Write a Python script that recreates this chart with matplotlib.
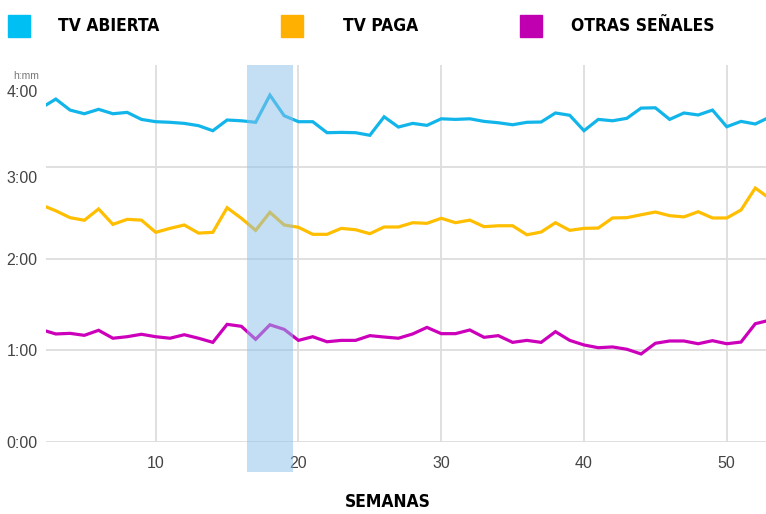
import matplotlib.pyplot as plt
import matplotlib.transforms as mtransforms
from matplotlib.patches import Rectangle
import numpy as np

# weekly average viewing time per person, in minutes (weeks 2..53)
weeks = np.arange(2, 54)

tv_abierta = [218.7, 224.4, 217.2, 214.8, 217.7, 214.8, 215.7, 211.1, 209.6, 209.2,
              208.5, 207.0, 203.7, 210.7, 210.2, 209.2, 227.0, 213.5, 209.6, 209.6,
              202.4, 202.6, 202.4, 200.7, 212.8, 206.1, 208.5, 207.2, 211.5, 211.1,
              211.5, 209.8, 208.9, 207.6, 209.2, 209.4, 215.3, 213.8, 203.7, 211.1,
              210.2, 211.8, 218.5, 218.7, 211.1, 215.3, 214.0, 217.2, 206.3, 209.8,
              208.1, 212.6]

tv_paga = [155.1, 151.3, 146.8, 145.1, 152.5, 142.4, 145.7, 145.2, 137.2, 139.8,
           142.0, 136.7, 137.2, 153.3, 146.4, 138.5, 150.3, 142.0, 140.5, 135.9,
           135.9, 139.8, 138.9, 136.3, 140.7, 140.7, 143.5, 143.1, 146.4, 143.5,
           145.2, 140.9, 141.5, 141.5, 135.6, 137.4, 143.5, 138.5, 139.8, 140.0,
           146.6, 146.8, 148.7, 150.5, 148.1, 147.3, 150.7, 146.6, 146.6, 151.8,
           166.2, 159.4]

otras = [73.5, 70.7, 71.1, 69.8, 73.1, 67.9, 68.9, 70.5, 68.9, 67.9,
         70.2, 67.9, 65.2, 77.0, 75.7, 67.2, 76.7, 73.7, 66.5, 68.9,
         65.6, 66.5, 66.5, 69.6, 68.7, 67.9, 70.7, 75.0, 70.9, 70.9,
         73.3, 68.5, 69.6, 65.2, 66.5, 65.2, 72.2, 66.5, 63.5, 61.7,
         62.2, 60.7, 57.6, 64.6, 66.1, 66.1, 64.3, 66.3, 64.3, 65.4,
         77.4, 79.7]

series_names = ['TV ABIERTA', 'TV PAGA', 'OTRAS SEÑALES']
line_colors = ['#12B5EA', '#FFBE00', '#CC00BB']
legend_colors = ['#00BFF3', '#FFB000', '#C000B0']

highlight = (16.4, 19.6)
ytick_vals = [0, 60, 120, 180, 240]
ytick_labels = ['0:00', '1:00', '2:00', '3:00', '4:00']
xtick_vals = [10, 20, 30, 40, 50]

plt.rcParams['font.family'] = ['Liberation Sans', 'DejaVu Sans']

fig = plt.figure(figsize=(7.66, 5.14), dpi=100)
ax = fig.add_axes([46 / 766, 72 / 514, 720 / 766, 377 / 514])

for vals, col in zip([tv_abierta, tv_paga, otras], line_colors):
    ax.plot(weeks, vals, color=col, lw=2.3, solid_joinstyle='miter', zorder=2)

# highlighted weeks, drawn over the lines and below the axis
ax.axvspan(*highlight, ymin=-0.08, ymax=1, color='#8BC1EB', alpha=0.5,
           lw=0, zorder=3, clip_on=False)

ax.set_xlim(2.315, 52.75)
ax.set_ylim(0, 246.7)
ax.set_xticks(xtick_vals)
ax.set_yticks(ytick_vals)
ax.set_yticklabels(ytick_labels)
ax.tick_params(length=0, labelsize=11.5, colors='#444444')
ax.tick_params(axis='x', pad=10)
ax.tick_params(axis='y', pad=6)
ax.grid(True, color='#DDDDDD', lw=1.3, zorder=0)
for s in ax.spines.values():
    s.set_visible(False)

# no gridline for 4:00 and the upper labels sit a bit lower
ygl = ax.get_ygridlines()
ygl[-1].set_visible(False)
yticks = ax.yaxis.get_major_ticks()
for tk, dy in [(yticks[3], -10), (yticks[4], -16)]:
    off = mtransforms.ScaledTranslation(0, dy / 100, fig.dpi_scale_trans)
    tk.label1.set_transform(tk.label1.get_transform() + off)

fig.text(13 / 766, 1 - 76 / 514, 'h:mm', fontsize=7.5, color='#777777',
         va='center', ha='left')

# legend along the top
sq_x = [8, 281, 520]
txt_x = [58, 343, 571]
for name, col, sx, tx in zip(series_names, legend_colors, sq_x, txt_x):
    fig.patches.append(Rectangle((sx / 766, 1 - 37 / 514), 22 / 766, 22 / 514,
                                 transform=fig.transFigure, color=col))
    fig.text(tx / 766, 1 - 26 / 514, name, fontsize=12.5, fontweight='bold',
             family=['DejaVu Sans'], fontstretch='condensed',
             va='center', ha='left', color='black')

fig.text(388 / 766, 1 - 502 / 514, 'SEMANAS', fontsize=12.5, fontweight='bold',
         family=['DejaVu Sans'], fontstretch='condensed',
         va='center', ha='center', color='black')

fig.savefig('out.png', dpi=100)
